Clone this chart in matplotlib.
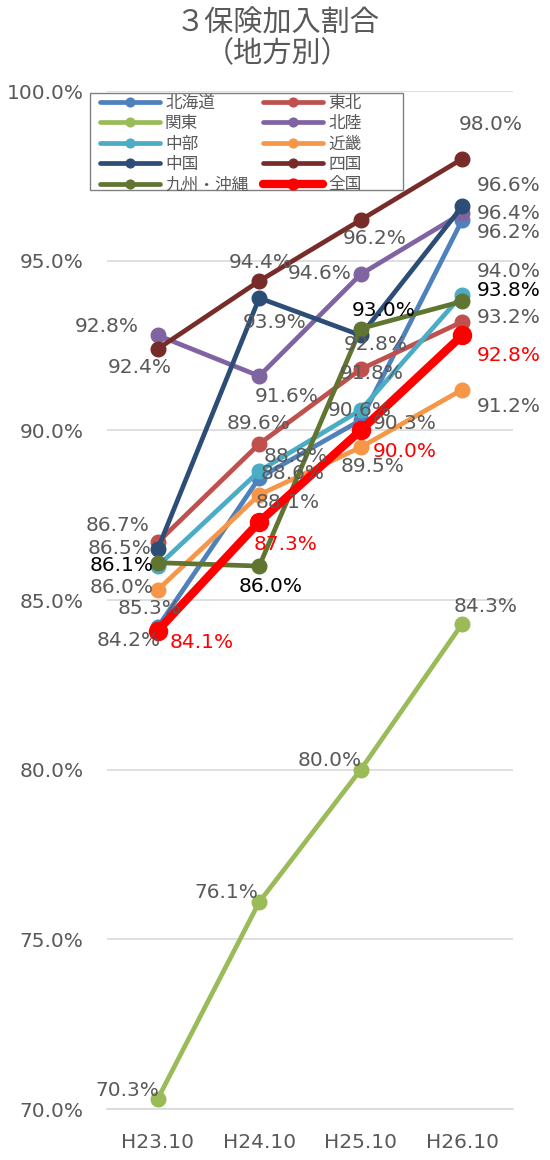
import matplotlib
matplotlib.use('Agg')
import matplotlib.pyplot as plt
from matplotlib.patches import Rectangle

plt.rcParams['font.family'] = ['DejaVu Sans', 'Noto Sans CJK JP']

# data
periods = ['H23.10', 'H24.10', 'H25.10', 'H26.10']
regions = ['北海道', '東北', '関東', '北陸', '中部', '近畿', '中国', '四国', '九州・沖縄', '全国']

hokkaido = [84.2, 88.6, 90.3, 96.2]
tohoku = [86.7, 89.6, 91.8, 93.2]
kanto = [70.3, 76.1, 80.0, 84.3]
hokuriku = [92.8, 91.6, 94.6, 96.4]
chubu = [86.0, 88.8, 90.6, 94.0]
kinki = [85.3, 88.1, 89.5, 91.2]
chugoku = [86.5, 93.9, 92.8, 96.6]
shikoku = [92.4, 94.4, 96.2, 98.0]
kyushu = [86.1, 86.0, 93.0, 93.8]
zenkoku = [84.1, 87.3, 90.0, 92.8]

series = [hokkaido, tohoku, kanto, hokuriku, chubu, kinki, chugoku, shikoku, kyushu, zenkoku]

colors = ['#4F81BD', '#C0504D', '#9BBB59', '#8064A2', '#4BACC6',
          '#F79646', '#2C4D75', '#772C2A', '#5F7530', '#FF0000']
label_colors = ['#595959'] * 8 + ['#000000', '#FF0000']

# label offsets in pixels (dx, dy) for each point
offsets = [
    [(-29, -13), (33, 4), (44, -3), (46, -13)],     # 北海道
    [(-40, 17), (-1, 20), (11, -4), (46, 4)],       # 東北
    [(-30, 8), (-33, 10), (-31, 9), (23, 17)],      # 関東
    [(-51, 9), (27, -20), (-41, 1), (46, 0)],       # 北陸
    [(-36, -21), (36, 15), (-1, -1), (46, 23)],     # 中部
    [(-8, -19), (28, -8), (12, -19), (46, -17)],    # 近畿
    [(-38, 1), (15, -25), (15, -9), (46, 21)],      # 中国
    [(-18, -19), (2, 19), (14, -19), (28, 34)],     # 四国
    [(-36, -3), (11, -20), (23, 18), (46, 11)],     # 九州・沖縄
    [(44, -12), (26, -23), (44, -21), (46, -20)],   # 全国
]

W, H = 550, 1160
fig = plt.figure(figsize=(W / 100, H / 100), dpi=100)
ax = fig.add_axes([107/W, 1-1109/H, 406/W, 1018/H])

x = list(range(len(periods)))
handles = []
for i, (name, vals) in enumerate(zip(regions, series)):
    big = name == '全国'
    ln, = ax.plot(x, vals, color=colors[i], lw=6 if big else 3.4,
                  marker='o', ms=13 if big else 10.5, label=name,
                  solid_capstyle='round', zorder=3 + i * 0.1)
    handles.append(ln)
    for j, v in enumerate(vals):
        dx, dy = offsets[i][j]
        ax.annotate(f'{v:.1f}%', (j, v), xytext=(dx, dy), textcoords='offset pixels',
                    ha='center', va='center', fontsize=14.5, color=label_colors[i], zorder=10)

ax.set_xlim(-0.5, 3.5)
ax.set_ylim(70, 100)
yt = [70, 75, 80, 85, 90, 95, 100]
ax.set_yticks(yt)
ax.set_yticklabels([f'{t:.1f}%' for t in yt])
ax.set_xticks(x)
ax.set_xticklabels(periods)
ax.tick_params(axis='y', length=0, pad=17, labelsize=14.5, labelcolor='#595959')
ax.tick_params(axis='x', length=0, pad=17, labelsize=14.5, labelcolor='#595959')
ax.grid(axis='y', color='#D9D9D9', lw=1.2)
ax.set_axisbelow(True)
for s in ['top', 'right', 'left']:
    ax.spines[s].set_visible(False)
ax.spines['bottom'].set_color('#D9D9D9')
ax.spines['bottom'].set_linewidth(1.2)

fig.text(0.505, 1-24/H, '３保険加入割合', ha='center', va='center', fontsize=21,
         color='#595959', family='Noto Sans CJK JP')
fig.text(0.505, 1-54/H, '（地方別）', ha='center', va='center', fontsize=21,
         color='#595959', family='Noto Sans CJK JP')

# legend box drawn by hand, it is wider than its content
box = Rectangle((90/W, 1-190/H), 313/W, 97/H, transform=fig.transFigure,
                facecolor='white', edgecolor='#808080', lw=1, zorder=4)
fig.patches.append(box)

# legend is row-major in the reference; matplotlib fills columns first
order = [0, 2, 4, 6, 8, 1, 3, 5, 7, 9]
leg = fig.legend([handles[k] for k in order], [regions[k] for k in order],
                 ncol=2, loc='upper left', bbox_to_anchor=(100/W, 1-95/H),
                 prop={'family': 'Noto Sans CJK JP', 'size': 12},
                 handlelength=3.6, handletextpad=0.3, columnspacing=0.9,
                 labelspacing=0.2, borderpad=0, borderaxespad=0,
                 markerscale=0.6, frameon=False)
leg.set_zorder(5)
for t in leg.get_texts():
    t.set_color('#595959')

fig.savefig('out.png', dpi=100)
